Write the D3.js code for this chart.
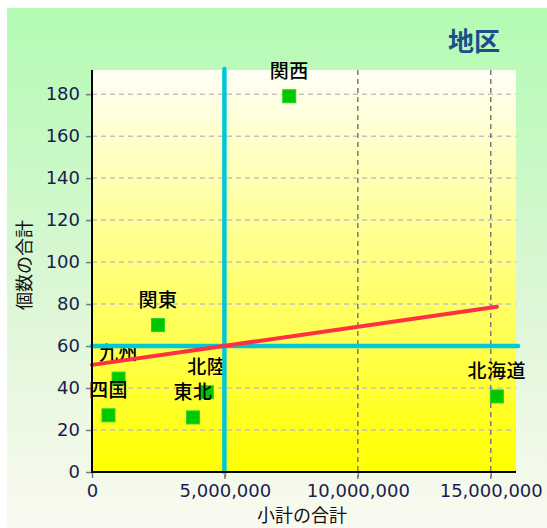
<!DOCTYPE html>
<html>
<head>
<meta charset="utf-8">
<script src="https://cdn.jsdelivr.net/npm/d3@7"></script>
<style>
  html, body { margin: 0; padding: 0; background: #ffffff; }
  svg { display: block; }
</style>
</head>
<body>
<div id="chart"></div>
<script>
// ---- data ----
const regions = ["関西", "関東", "九州", "四国", "東北", "北陸", "北海道"];
const subtotals = [7420000, 2480000, 1000000, 620000, 3800000, 4320000, 15230000];
const counts = [179, 70, 44.5, 27, 26, 38, 36];
const xTickValues = [0, 5000000, 10000000, 15000000];
const yTickValues = [0, 20, 40, 60, 80, 100, 120, 140, 160, 180];
const chartTitle = "地区";
const xTitle = "小計の合計";
const yTitle = "個数の合計";

// ---- layout ----
const W = 547, H = 528;
const plot = { left: 92, top: 70, right: 516, bottom: 472 };

const svg = d3.select("#chart").append("svg")
  .attr("width", W).attr("height", H);

const defs = svg.append("defs");
const bgGrad = defs.append("linearGradient").attr("id", "bgGrad")
  .attr("x1", 0).attr("y1", 0).attr("x2", 0).attr("y2", 1);
bgGrad.append("stop").attr("offset", "0%").attr("stop-color", "#b3fbb3");
bgGrad.append("stop").attr("offset", "55%").attr("stop-color", "#dcf7d6");
bgGrad.append("stop").attr("offset", "100%").attr("stop-color", "#fafaf0");

const plotGrad = defs.append("linearGradient").attr("id", "plotGrad")
  .attr("x1", 0).attr("y1", 0).attr("x2", 0).attr("y2", 1);
plotGrad.append("stop").attr("offset", "0%").attr("stop-color", "#fffff6");
plotGrad.append("stop").attr("offset", "100%").attr("stop-color", "#ffff00");

// outer background
svg.append("rect").attr("x", 7).attr("y", 8).attr("width", W - 7).attr("height", H - 8)
  .attr("fill", "url(#bgGrad)");

// plot background
svg.append("rect").attr("x", plot.left).attr("y", plot.top)
  .attr("width", plot.right - plot.left).attr("height", plot.bottom - plot.top)
  .attr("fill", "url(#plotGrad)");

// scales
const x = d3.scaleLinear().domain([0, 15950000]).range([plot.left, plot.right]);
const y = d3.scaleLinear().domain([0, 191.5]).range([plot.bottom, plot.top]);

// grid lines
const grid = svg.append("g");
grid.selectAll("line.hg").data(yTickValues.filter(v => v > 0)).join("line")
  .attr("x1", plot.left).attr("x2", plot.right)
  .attr("y1", d => y(d)).attr("y2", d => y(d))
  .attr("stroke", "#c2c2c2").attr("stroke-width", 1.5)
  .attr("stroke-dasharray", "5,4");
grid.selectAll("line.vg").data(xTickValues.filter(v => v > 0)).join("line")
  .attr("x1", d => x(d)).attr("x2", d => x(d))
  .attr("y1", plot.top).attr("y2", plot.bottom + 7)
  .attr("stroke", "#7a7a7a").attr("stroke-width", 1.5)
  .attr("stroke-dasharray", "5,4");

// axes
const tickFont = "'DejaVu Sans', Verdana, sans-serif";
const yAxis = svg.append("g").attr("transform", `translate(${plot.left},0)`)
  .call(d3.axisLeft(y).tickValues(yTickValues).tickSize(6).tickPadding(6).tickFormat(d3.format("d")));
const xAxis = svg.append("g").attr("transform", `translate(0,${plot.bottom})`)
  .call(d3.axisBottom(x).tickValues(xTickValues).tickSize(6).tickPadding(6).tickFormat(d3.format(",")));
[xAxis, yAxis].forEach(a => {
  a.select(".domain").remove();
  a.selectAll(".tick line").attr("stroke", "#7a7a7a").attr("stroke-width", 1.5);
  a.selectAll(".tick text").attr("fill", "#1c1c4e")
    .style("font-family", tickFont).style("font-size", "18px");
});
xAxis.selectAll(".tick").filter(d => d > 0).select("line").attr("stroke-dasharray", "5,4");

// points
const data = regions.map((r, i) => ({ name: r, x: subtotals[i], y: counts[i] }));
const size = 13;
svg.append("g").selectAll("rect").data(data).join("rect")
  .attr("x", d => x(d.x) - size / 2).attr("y", d => y(d.y) - size / 2)
  .attr("width", size).attr("height", size)
  .attr("fill", "#00c800").attr("stroke", "#22d622").attr("stroke-width", 1);

// point labels
const cjk = "'Noto Sans CJK JP', 'Noto Sans CJK SC', sans-serif";
svg.append("g").selectAll("text").data(data).join("text")
  .attr("x", d => x(d.x)).attr("y", d => y(d.y) - 27)
  .attr("text-anchor", "middle").attr("dominant-baseline", "central")
  .style("font-family", cjk).style("font-size", "19px").style("font-weight", "500")
  .style("letter-spacing", "0.5px").attr("fill", "#000")
  .text(d => d.name);

// mean lines (computed from data)
const meanX = d3.mean(subtotals);
const meanY = d3.mean(counts);
svg.append("line")
  .attr("x1", x(meanX)).attr("x2", x(meanX))
  .attr("y1", plot.top - 1).attr("y2", plot.bottom)
  .attr("stroke", "#00c8d6").attr("stroke-width", 4.5).attr("stroke-linecap", "round");
svg.append("line")
  .attr("x1", plot.left).attr("x2", plot.right + 2)
  .attr("y1", y(meanY)).attr("y2", y(meanY))
  .attr("stroke", "#00c8d6").attr("stroke-width", 4.5).attr("stroke-linecap", "round");

// regression line (least squares on data)
let sxy = 0, sxx = 0;
data.forEach(d => { sxy += (d.x - meanX) * (d.y - meanY); sxx += (d.x - meanX) ** 2; });
const slope = sxy / sxx;
const intercept = meanY - slope * meanX;
const xMax = d3.max(subtotals);
svg.append("line")
  .attr("x1", x(0)).attr("y1", y(intercept))
  .attr("x2", x(xMax)).attr("y2", y(intercept + slope * xMax))
  .attr("stroke", "#ff3042").attr("stroke-width", 4).attr("stroke-linecap", "round");

// axis lines
svg.append("line").attr("x1", plot.left).attr("x2", plot.left)
  .attr("y1", plot.top).attr("y2", plot.bottom + 1)
  .attr("stroke", "#000").attr("stroke-width", 2);
svg.append("line").attr("x1", plot.left).attr("x2", plot.right)
  .attr("y1", plot.bottom).attr("y2", plot.bottom)
  .attr("stroke", "#000").attr("stroke-width", 2);

// titles
svg.append("text").attr("x", 500).attr("y", 51).attr("text-anchor", "end")
  .style("font-family", cjk).style("font-size", "26px").style("font-weight", "bold")
  .attr("fill", "#1a4f8c").text(chartTitle);
svg.append("text").attr("x", (plot.left + plot.right) / 2 - 2).attr("y", 522)
  .attr("text-anchor", "middle")
  .style("font-family", cjk).style("font-size", "18px").attr("fill", "#111")
  .text(xTitle);
svg.append("text").attr("transform", "translate(31,265) rotate(-90)")
  .attr("text-anchor", "middle")
  .style("font-family", cjk).style("font-size", "18px").attr("fill", "#111")
  .text(yTitle);
</script>
</body>
</html>
